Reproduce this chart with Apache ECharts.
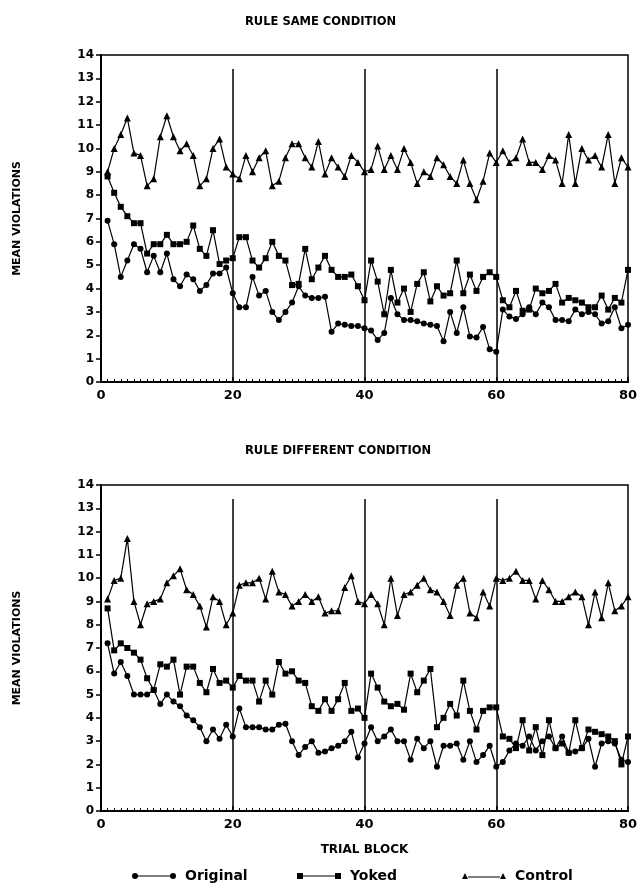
<!DOCTYPE html>
<html>
<head>
<meta charset="utf-8">
<script src="https://cdn.jsdelivr.net/npm/echarts@6/dist/echarts.min.js"></script>
<style>
  html, body { margin: 0; padding: 0; background: #fff; }
  #chart { width: 642px; height: 884px; }
</style>
</head>
<body>
<div id="chart"></div>
<script>
// trial blocks 1..80, mean violations per block
const sameOriginal = [6.9, 5.9, 4.5, 5.2, 5.9, 5.7, 4.7, 5.4, 4.7, 5.5, 4.4, 4.1, 4.6, 4.4, 3.9, 4.15, 4.65, 4.65, 4.9, 3.8,
  3.2, 3.2, 4.5, 3.7, 3.9, 3.0, 2.65, 3.0, 3.4, 4.1, 3.7, 3.6, 3.6, 3.65, 2.15, 2.5, 2.45, 2.4, 2.4, 2.3,
  2.2, 1.8, 2.1, 3.6, 2.9, 2.65, 2.65, 2.6, 2.5, 2.45, 2.4, 1.75, 3.0, 2.1, 3.2, 1.95, 1.9, 2.35, 1.4, 1.3,
  3.1, 2.8, 2.7, 2.9, 3.2, 2.9, 3.4, 3.2, 2.65, 2.65, 2.6, 3.1, 2.9, 3.0, 2.9, 2.5, 2.6, 3.2, 2.3, 2.45]
const sameYoked = [8.8, 8.1, 7.5, 7.1, 6.8, 6.8, 5.5, 5.9, 5.9, 6.3, 5.9, 5.9, 6.0, 6.7, 5.7, 5.4, 6.5, 5.05, 5.2, 5.3,
  6.2, 6.2, 5.2, 4.9, 5.3, 6.0, 5.4, 5.2, 4.15, 4.2, 5.7, 4.4, 4.9, 5.4, 4.8, 4.5, 4.5, 4.6, 4.1, 3.5,
  5.2, 4.3, 2.9, 4.8, 3.4, 4.0, 3.0, 4.2, 4.7, 3.45, 4.1, 3.7, 3.8, 5.2, 3.8, 4.6, 3.9, 4.5, 4.7, 4.5,
  3.5, 3.2, 3.9, 3.05, 3.1, 4.0, 3.8, 3.9, 4.2, 3.4, 3.6, 3.5, 3.4, 3.2, 3.2, 3.7, 3.1, 3.6, 3.4, 4.8]
const sameControl = [9.0, 10.0, 10.6, 11.3, 9.8, 9.7, 8.4, 8.7, 10.5, 11.4, 10.5, 9.9, 10.2, 9.7, 8.4, 8.7, 10.0, 10.4, 9.2, 8.9,
  8.7, 9.7, 9.0, 9.6, 9.9, 8.4, 8.6, 9.6, 10.2, 10.2, 9.6, 9.2, 10.3, 8.9, 9.6, 9.2, 8.8, 9.7, 9.4, 9.0,
  9.1, 10.1, 9.1, 9.7, 9.1, 10.0, 9.4, 8.5, 9.0, 8.8, 9.6, 9.3, 8.8, 8.5, 9.5, 8.5, 7.8, 8.6, 9.8, 9.4,
  9.9, 9.4, 9.6, 10.4, 9.4, 9.4, 9.1, 9.7, 9.5, 8.5, 10.6, 8.5, 10.0, 9.5, 9.7, 9.2, 10.6, 8.5, 9.6, 9.2]

const diffOriginal = [7.2, 5.9, 6.4, 5.8, 5.0, 5.0, 5.0, 5.2, 4.6, 5.0, 4.7, 4.5, 4.1, 3.9, 3.6, 3.0, 3.5, 3.1, 3.7, 3.2,
  4.4, 3.6, 3.6, 3.6, 3.5, 3.5, 3.7, 3.75, 3.0, 2.4, 2.75, 3.0, 2.5, 2.55, 2.7, 2.8, 3.0, 3.4, 2.3, 2.9,
  3.6, 3.0, 3.2, 3.5, 3.0, 3.0, 2.2, 3.1, 2.7, 3.0, 1.9, 2.8, 2.8, 2.9, 2.2, 3.0, 2.1, 2.4, 2.8, 1.9,
  2.1, 2.6, 2.9, 2.8, 3.2, 2.6, 3.0, 3.2, 2.7, 3.2, 2.5, 2.55, 2.7, 3.1, 1.9, 2.9, 3.0, 2.9, 2.2, 2.1]
const diffYoked = [8.7, 6.9, 7.2, 7.0, 6.8, 6.5, 5.7, 5.2, 6.3, 6.2, 6.5, 5.0, 6.2, 6.2, 5.5, 5.1, 6.1, 5.5, 5.6, 5.3,
  5.8, 5.6, 5.6, 4.7, 5.6, 5.0, 6.4, 5.9, 6.0, 5.6, 5.5, 4.5, 4.3, 4.8, 4.3, 4.8, 5.5, 4.3, 4.4, 4.0,
  5.9, 5.3, 4.7, 4.5, 4.6, 4.35, 5.9, 5.1, 5.6, 6.1, 3.6, 4.0, 4.6, 4.1, 5.6, 4.3, 3.5, 4.3, 4.45, 4.45,
  3.2, 3.1, 2.7, 3.9, 2.6, 3.6, 2.4, 3.9, 2.7, 2.9, 2.5, 3.9, 2.7, 3.5, 3.4, 3.3, 3.2, 3.0, 2.0, 3.2]
const diffControl = [9.1, 9.9, 10.0, 11.7, 9.0, 8.0, 8.9, 9.0, 9.1, 9.8, 10.1, 10.4, 9.5, 9.3, 8.8, 7.9, 9.2, 9.0, 8.0, 8.5,
  9.7, 9.8, 9.8, 10.0, 9.1, 10.3, 9.4, 9.3, 8.8, 9.0, 9.3, 9.0, 9.2, 8.5, 8.6, 8.6, 9.6, 10.1, 9.0, 8.9,
  9.3, 8.9, 8.0, 10.0, 8.4, 9.3, 9.4, 9.7, 10.0, 9.5, 9.4, 9.0, 8.4, 9.7, 10.0, 8.5, 8.3, 9.4, 8.8, 10.0,
  9.9, 10.0, 10.3, 9.9, 9.9, 9.1, 9.9, 9.5, 9.0, 9.0, 9.2, 9.4, 9.2, 8.0, 9.4, 8.3, 9.8, 8.6, 8.8, 9.2]

const seriesNames = ['Original', 'Yoked', 'Control']
const panelTitles = ['RULE SAME CONDITION', 'RULE DIFFERENT CONDITION']
const dividers = [20, 40, 60]

const FONT = 'DejaVu Sans'
const chart = echarts.init(document.getElementById('chart'))

function pts(arr) {
  return arr.map((v, i) => [i + 1, v])
}

const symbols = { Original: ['circle', 6], Yoked: ['rect', 6], Control: ['triangle', 7] }

function makeSeries(name, arr, gridIndex, withDividers) {
  const s = {
    name: name,
    type: 'line',
    xAxisIndex: gridIndex,
    yAxisIndex: gridIndex,
    data: pts(arr),
    symbol: symbols[name][0],
    symbolSize: symbols[name][1],
    itemStyle: { color: '#000' },
    lineStyle: { color: '#000', width: 1.2 },
    animation: false,
    z: 3,
  }
  if (withDividers) {
    s.markLine = {
      silent: true,
      symbol: ['none', 'none'],
      label: { show: false },
      lineStyle: { color: '#000', width: 1.5, type: 'solid' },
      data: dividers.map((d) => [{ coord: [d, 0] }, { coord: [d, 13.4] }]),
    }
  }
  return s
}

function xAxis(gridIndex, named) {
  return {
    type: 'value',
    gridIndex: gridIndex,
    min: 0,
    max: 80,
    interval: 20,
    name: named ? 'TRIAL BLOCK' : '',
    nameLocation: 'middle',
    nameGap: 33,
    nameTextStyle: { fontFamily: FONT, fontWeight: 'bold', fontSize: 12, color: '#000' },
    axisLine: { lineStyle: { color: '#000', width: 2 } },
    axisTick: { inside: true, length: 5, lineStyle: { color: '#000', width: 1.5 } },
    minorTick: { show: true, splitNumber: 20, length: 3, lineStyle: { color: '#000', width: 1 } },
    splitLine: { show: false },
    axisLabel: { fontFamily: FONT, fontWeight: 'bold', fontSize: 13, color: '#000', margin: 7 },
  }
}

function yAxis(gridIndex) {
  return {
    type: 'value',
    gridIndex: gridIndex,
    min: 0,
    max: 14,
    interval: 1,
    name: 'MEAN VIOLATIONS',
    nameLocation: 'middle',
    nameGap: 78,
    nameRotate: 90,
    nameTextStyle: { fontFamily: FONT, fontWeight: 'bold', fontSize: 11, color: '#000' },
    axisLine: { show: true, lineStyle: { color: '#000', width: 2 } },
    axisTick: { show: true, length: 5, lineStyle: { color: '#000', width: 1.5 } },
    splitLine: { show: false },
    axisLabel: { fontFamily: FONT, fontWeight: 'bold', fontSize: 12, color: '#000', margin: 7 },
  }
}

const icons = {
  Original: 'path://M0,4a3,3 0 1,0 6,0a3,3 0 1,0 -6,0zM6,3.4h32v1.2h-32zM38,4a3,3 0 1,0 6,0a3,3 0 1,0 -6,0z',
  Yoked: 'path://M0,1h6v6h-6zM6,3.4h32v1.2h-32zM38,1h6v6h-6z',
  Control: 'path://M0,7L3,1L6,7zM6,4.4h32v1.2h-32zM38,7L41,1L44,7z',
}
const legendLeft = { Original: 127, Yoked: 292, Control: 457 }

const option = {
  backgroundColor: '#fff',
  animation: false,
  title: panelTitles.map((t, i) => ({
    text: t,
    left: 240,
    top: i === 0 ? 11 : 440,
    textStyle: { fontFamily: FONT, fontWeight: 'bold', fontSize: 11.5, color: '#000' },
  })),
  legend: seriesNames.map((n) => ({
    data: [n],
    left: legendLeft[n],
    top: 864,
    icon: icons[n],
    itemWidth: 44,
    itemHeight: 6,
    itemGap: 8,
    selectedMode: false,
    textStyle: { fontFamily: FONT, fontWeight: 'bold', fontSize: 14, color: '#000', padding: [0, 0, 0, 4] },
  })),
  grid: [
    { left: 101, right: 14, top: 55, height: 327, show: true, borderColor: '#000', borderWidth: 1.5, backgroundColor: 'transparent' },
    { left: 101, right: 14, top: 485, height: 326, show: true, borderColor: '#000', borderWidth: 1.5, backgroundColor: 'transparent' },
  ],
  xAxis: [xAxis(0, false), xAxis(1, true)],
  yAxis: [yAxis(0), yAxis(1)],
  series: [
    makeSeries('Original', sameOriginal, 0, true),
    makeSeries('Yoked', sameYoked, 0, false),
    makeSeries('Control', sameControl, 0, false),
    makeSeries('Original', diffOriginal, 1, true),
    makeSeries('Yoked', diffYoked, 1, false),
    makeSeries('Control', diffControl, 1, false),
  ],
}

chart.setOption(option)
</script>
</body>
</html>
